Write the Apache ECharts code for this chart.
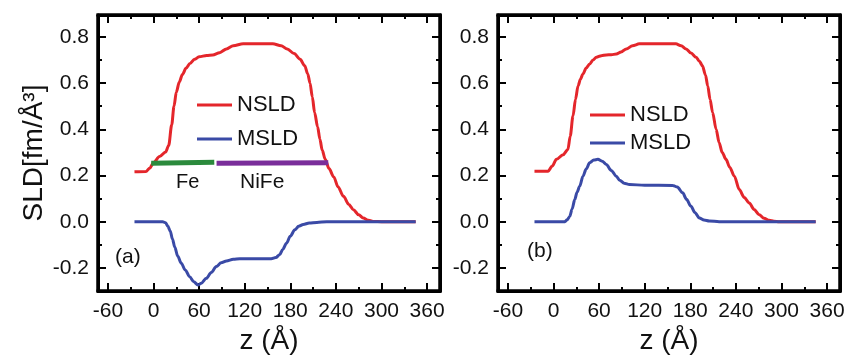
<!DOCTYPE html>
<html><head><meta charset="utf-8">
<script src="https://cdn.jsdelivr.net/npm/echarts@6/dist/echarts.min.js"></script>
<style>html,body{margin:0;padding:0;background:#fff}#c{width:848px;height:360px}</style>
</head><body><div id="c"></div>
<script>
// ---- tick values ----
const xTicks = [-60, 0, 60, 120, 180, 240, 300, 360];
const xMinorTicks = [-30, 30, 90, 150, 210, 270, 330];
const yTicks = [-0.2, 0, 0.2, 0.4, 0.6, 0.8];
const yMinorTicks = [-0.1, 0.1, 0.3, 0.5, 0.7];

// ---- panel (a) ----
const nsldA = [[-25,0.216],[-10,0.217],[-5,0.232],[0,0.255],[8,0.282],[16,0.302],[20,0.33],[24,0.42],[27,0.50],[30,0.56],[34,0.605],[38,0.637],[43,0.665],[48,0.685],[54,0.703],[60,0.714],[70,0.72],[78,0.722],[87,0.732],[96,0.748],[105,0.762],[118,0.77],[135,0.771],[157,0.77],[168,0.762],[176,0.748],[185,0.728],[193,0.703],[199,0.675],[203,0.64],[206,0.60],[209,0.54],[212,0.473],[216,0.41],[219,0.357],[222,0.31],[226,0.27],[231,0.23],[237,0.195],[243,0.15],[250,0.11],[257,0.075],[263,0.052],[270,0.03],[276,0.016],[283,0.006],[290,0.001],[300,0],[345,0]];
const msldA = [[-25,0],[12,0],[16,-0.005],[19,-0.02],[22,-0.04],[25,-0.075],[28,-0.11],[32,-0.15],[36.5,-0.18],[42,-0.21],[47.5,-0.238],[53,-0.26],[58.5,-0.274],[63,-0.266],[69.5,-0.245],[76,-0.22],[82.7,-0.194],[89,-0.178],[96,-0.17],[105,-0.163],[113.5,-0.16],[155,-0.16],[161,-0.155],[166,-0.143],[170,-0.12],[175,-0.093],[180,-0.063],[186,-0.035],[191,-0.02],[197,-0.012],[205,-0.006],[215,-0.003],[228,0],[345,0]];
const feLayer = [[-3,0.253],[80,0.257]];
const nifeLayer = [[83,0.253],[230,0.255]];

// ---- panel (b) ----
const nsldB = [[-25,0.219],[-7,0.219],[-2,0.24],[4,0.27],[12.6,0.29],[19,0.313],[22,0.37],[25.7,0.458],[29,0.53],[32.3,0.588],[35.5,0.617],[38.8,0.64],[43,0.665],[47.6,0.683],[52,0.7],[56.4,0.712],[63,0.719],[69.5,0.722],[76,0.723],[82.7,0.726],[89,0.735],[95.8,0.748],[104,0.762],[113,0.77],[161,0.77],[168,0.762],[174.5,0.748],[181,0.73],[187.7,0.712],[192,0.695],[196,0.675],[200,0.635],[203,0.588],[206,0.53],[209.4,0.473],[214,0.4],[218,0.342],[222,0.3],[227,0.27],[232,0.235],[238,0.197],[244.5,0.139],[251,0.105],[257.6,0.081],[264,0.053],[270.7,0.03],[277,0.015],[283.8,0.006],[290,0.002],[297,0],[345,0]];
const msldB = [[-25,0],[15,0],[18,0.008],[21.4,0.023],[24.5,0.055],[28,0.096],[31,0.128],[34.5,0.153],[38.8,0.197],[43,0.228],[47.6,0.255],[53,0.267],[58.5,0.27],[64,0.262],[69.5,0.248],[76,0.222],[82.7,0.197],[87,0.18],[93,0.167],[100,0.161],[120,0.158],[157,0.157],[163,0.15],[170,0.125],[175,0.097],[181,0.067],[186,0.04],[192,0.016],[198,0.007],[205,0.003],[218,0],[345,0]];

const FONT = 'Liberation Sans';
const RED = '#e4262b', BLUE = '#3a4aa6', GREEN = '#2b8a3c', PURPLE = '#7a2e9a';
const XMIN = -73, XMAX = 377, YMIN = -0.3, YMAX = 0.895;
const GRIDS = [{left: 98, top: 15, width: 342, height: 276}, {left: 498, top: 15, width: 342, height: 276}];

function xAx(grid, pos, vals, len, major, labels, name) {
  const a = {
    type: 'value', gridIndex: grid, position: pos, min: XMIN, max: XMAX,
    splitLine: {show: false},
    axisLine: {show: major, onZero: false, lineStyle: {color: '#000', width: 3}},
    axisTick: {show: true, inside: true, length: len, customValues: vals, lineStyle: {color: '#000', width: 2}},
    axisLabel: labels ? {show: true, customValues: vals, margin: 10, fontSize: 21, color: '#111', fontFamily: FONT} : {show: false}
  };
  if (name) {
    a.name = name; a.nameLocation = 'middle'; a.nameGap = 36;
    a.nameTextStyle = {fontSize: 28, color: '#111', fontFamily: FONT};
  }
  return a;
}
function yAx(grid, pos, vals, len, major, labels, name) {
  const a = {
    type: 'value', gridIndex: grid, position: pos, min: YMIN, max: YMAX,
    splitLine: {show: false},
    axisLine: {show: major, onZero: false, lineStyle: {color: '#000', width: 3}},
    axisTick: {show: true, inside: true, length: len, customValues: vals, lineStyle: {color: '#000', width: 2}},
    axisLabel: labels ? {show: true, customValues: vals, margin: 9, fontSize: 21, color: '#111', fontFamily: FONT,
      formatter: v => v.toFixed(1)} : {show: false}
  };
  if (name) {
    a.name = name; a.nameLocation = 'middle'; a.nameGap = 50; a.nameRotate = 90;
    a.nameTextStyle = {fontSize: 28, color: '#111', fontFamily: FONT};
  }
  return a;
}

const xAxes = [], yAxes = [];
[0, 1].forEach(g => {
  xAxes.push(xAx(g, 'bottom', xTicks, 8, true, true, 'z (Å)'));
  xAxes.push(xAx(g, 'bottom', xMinorTicks, 4, false, false));
  xAxes.push(xAx(g, 'top', xTicks, 8, true, false));
  xAxes.push(xAx(g, 'top', xMinorTicks, 4, false, false));
  yAxes.push(yAx(g, 'left', yTicks, 8, true, true, g === 0 ? 'SLD[fm/Å³]' : ''));
  yAxes.push(yAx(g, 'left', yMinorTicks, 4, false, false));
  yAxes.push(yAx(g, 'right', yTicks, 8, true, false));
  yAxes.push(yAx(g, 'right', yMinorTicks, 4, false, false));
});

function line(name, data, color, g, width) {
  return {
    name, type: 'line', data, xAxisIndex: g * 4, yAxisIndex: g * 4,
    showSymbol: false, smooth: 0.3, smoothMonotone: 'x',
    lineStyle: {color, width: width || 3}, itemStyle: {color}
  };
}

// frame of each panel, drawn from the grid rectangle that the library computes
function frame(g) {
  return {
    type: 'custom', xAxisIndex: g * 4, yAxisIndex: g * 4, data: [[0, 0]], silent: true, clip: false, z: 10,
    renderItem: (params) => {
      const cs = params.coordSys;
      const x0 = cs.x, y0 = cs.y, x1 = cs.x + cs.width, y1 = cs.y + cs.height;
      const st = {stroke: '#000', lineWidth: 3};
      return {type: 'group', children: [
        {type: 'line', shape: {x1: x0 - 1.5, y1: y0, x2: x1 + 1.5, y2: y0}, style: st},
        {type: 'line', shape: {x1: x0 - 1.5, y1: y1, x2: x1 + 1.5, y2: y1}, style: st},
        {type: 'line', shape: {x1: x0, y1: y0, x2: x0, y2: y1}, style: st},
        {type: 'line', shape: {x1: x1, y1: y0, x2: x1, y2: y1}, style: st}
      ]};
    }
  };
}

const legendCommon = {
  data: ['NSLD', 'MSLD'], orient: 'vertical', icon: 'rect', itemWidth: 35, itemHeight: 3,
  selectedMode: false, textStyle: {fontSize: 22, color: '#111', fontFamily: FONT}
};

const option = {
  animation: false,
  grid: GRIDS.map(g => Object.assign({show: true, borderColor: '#000', borderWidth: 3}, g)),
  xAxis: xAxes,
  yAxis: yAxes,
  legend: [
    Object.assign({}, legendCommon, {left: 192, top: 89, itemGap: 12}),
    Object.assign({}, legendCommon, {left: 585, top: 99, itemGap: 6})
  ],
  series: [
    line('NSLD', nsldA, RED, 0),
    line('MSLD', msldA, BLUE, 0),
    line('Fe', feLayer, GREEN, 0, 5),
    line('NiFe', nifeLayer, PURPLE, 0, 5),
    line('NSLD', nsldB, RED, 1),
    line('MSLD', msldB, BLUE, 1),
    frame(0),
    frame(1)
  ],
  graphic: [
    {type: 'text', left: 115, top: 247, style: {text: '(a)', fontSize: 21, fill: '#111', fontFamily: FONT}},
    {type: 'text', left: 527, top: 241, style: {text: '(b)', fontSize: 21, fill: '#111', fontFamily: FONT}},
    {type: 'text', left: 176, top: 172, style: {text: 'Fe', fontSize: 20, fill: '#111', fontFamily: FONT}},
    {type: 'text', left: 240, top: 172, style: {text: 'NiFe', fontSize: 21, fill: '#111', fontFamily: FONT}}
  ]
};
echarts.init(document.getElementById('c')).setOption(option);
</script>
</body></html>
